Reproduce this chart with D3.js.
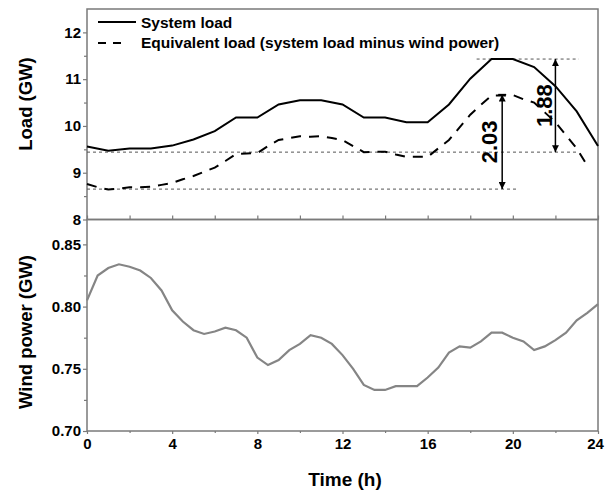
<!DOCTYPE html>
<html><head><meta charset="utf-8">
<script src="https://cdn.jsdelivr.net/npm/d3@7/dist/d3.min.js"></script>
<style>
body{margin:0;background:#fff}
svg{display:block}
text{font-family:Arial,"Liberation Sans",Helvetica,sans-serif;font-weight:bold;fill:#000}
</style>
</head><body>
<svg id="chart" width="605" height="490"></svg>
<script>
// ---- data ----
const loadHours = [0,1,2,3,4,5,6,7,8,9,10,11,12,13,14,15,16,17,18,19,20,21,22,23,24];
const systemLoad = [9.56,9.47,9.52,9.52,9.58,9.71,9.89,10.18,10.18,10.46,10.55,10.55,10.46,10.18,10.18,10.08,10.08,10.46,11.01,11.43,11.43,11.26,10.85,10.31,9.57];

const eqHours = [0,0.5,1,1.5,2,2.5,3,3.5,4,4.5,5,5.5,6,6.5,7,7.5,8,8.5,9,9.5,10,10.5,11,11.5,12,12.5,13,13.5,14,14.5,15,15.5,16,16.5,17,17.5,18,18.5,19,19.5,20,20.5,21,21.5,22,22.5,23,23.5];
const equivalentLoad = [8.76,8.69,8.64,8.66,8.69,8.69,8.70,8.74,8.78,8.86,8.93,9.02,9.11,9.25,9.40,9.41,9.42,9.57,9.70,9.74,9.78,9.77,9.78,9.74,9.70,9.57,9.44,9.45,9.45,9.39,9.34,9.34,9.34,9.52,9.70,9.97,10.24,10.45,10.65,10.65,10.66,10.57,10.50,10.29,10.08,9.80,9.52,9.15];

const windHours = [0,0.5,1,1.5,2,2.5,3,3.5,4,4.5,5,5.5,6,6.5,7,7.5,8,8.5,9,9.5,10,10.5,11,11.5,12,12.5,13,13.5,14,14.5,15,15.5,16,16.5,17,17.5,18,18.5,19,19.5,20,20.5,21,21.5,22,22.5,23,23.5,24];
const windPower = [0.805,0.825,0.831,0.834,0.832,0.829,0.823,0.813,0.797,0.788,0.781,0.778,0.780,0.783,0.781,0.775,0.759,0.753,0.757,0.765,0.770,0.777,0.775,0.770,0.761,0.750,0.737,0.733,0.733,0.736,0.736,0.736,0.743,0.751,0.763,0.768,0.767,0.772,0.779,0.779,0.775,0.772,0.765,0.768,0.773,0.779,0.789,0.795,0.802];

const loadTicks = [8,9,10,11,12];
const loadMinorTicks = [8.5,9.5,10.5,11.5];
const windTicks = [0.70,0.75,0.80,0.85];
const windMinorTicks = [0.725,0.775,0.825];
const timeTicks = [0,4,8,12,16,20,24];
const timeMinorTicks = [2,6,10,14,18,22];

const seriesNames = ["System load","Equivalent load (system load minus wind power)"];

// annotation: reference levels [value, fromHour, toHour]
const refLevels = [[11.43,18.3,23.1],[9.44,0,23.0],[8.65,0,20.2]];
// arrows: [hour, fromValue, toValue, label, labelHour]
const arrows = [[19.5,10.67,8.65,"2.03",18.9],[22.0,11.43,9.44,"1.88",21.5]];

// ---- layout ----
const svg = d3.select("#chart");
const L = 87, R = 598, T = 9, M = 219.5, B = 431;
const x = d3.scaleLinear().domain([0,24]).range([L,R]);
const yTop = d3.scaleLinear().domain([8,12.5]).range([M,T]);
const yBot = d3.scaleLinear().domain([0.70,0.87]).range([B,M]);
const axisColor = "#7a7a7a";

// defs: arrowheads
const defs = svg.append("defs");
defs.append("marker").attr("id","ah").attr("viewBox","0 0 10 10").attr("refX",10).attr("refY",5)
  .attr("markerWidth",7).attr("markerHeight",7).attr("markerUnits","userSpaceOnUse").attr("orient","auto-start-reverse")
  .append("path").attr("d","M0,0 L10,5 L0,10 Z").attr("fill","#000");

// frames
svg.append("rect").attr("x",L).attr("y",T).attr("width",R-L).attr("height",M-T)
  .attr("fill","none").attr("stroke",axisColor).attr("stroke-width",1.5);
svg.append("rect").attr("x",L).attr("y",M).attr("width",R-L).attr("height",B-M)
  .attr("fill","none").attr("stroke",axisColor).attr("stroke-width",1.5);

function styleAxis(g){
  g.select(".domain").remove();
  g.selectAll(".tick line").attr("stroke",axisColor).attr("stroke-width",1.2);
  g.selectAll(".tick text").attr("font-size","15px").attr("fill","#000");
}

// top y axis
svg.append("g").attr("transform",`translate(${L},0)`)
  .call(d3.axisLeft(yTop).tickValues(loadTicks).tickSize(4).tickPadding(2).tickFormat(d3.format("d")))
  .call(styleAxis);
svg.append("g").attr("transform",`translate(${L},0)`)
  .call(d3.axisLeft(yTop).tickValues(loadMinorTicks).tickSize(3).tickFormat(""))
  .call(styleAxis);
// top panel bottom ticks (inward)
svg.append("g").attr("transform",`translate(0,${M})`)
  .call(d3.axisTop(x).tickValues(timeTicks.concat(timeMinorTicks)).tickSize(4).tickFormat(""))
  .call(styleAxis);

// bottom y axis
svg.append("g").attr("transform",`translate(${L},0)`)
  .call(d3.axisLeft(yBot).tickValues(windTicks).tickSize(4).tickPadding(2).tickFormat(d3.format(".2f")))
  .call(styleAxis);
svg.append("g").attr("transform",`translate(${L},0)`)
  .call(d3.axisLeft(yBot).tickValues(windMinorTicks).tickSize(3).tickFormat(""))
  .call(styleAxis);
// bottom x axis
const xAxisG = svg.append("g").attr("transform",`translate(0,${B})`)
  .call(d3.axisBottom(x).tickValues(timeTicks).tickSize(3).tickPadding(4).tickFormat(d3.format("d")))
  .call(styleAxis);
xAxisG.selectAll(".tick text").filter(d=>d===24).attr("dx","-3");
svg.append("g").attr("transform",`translate(0,${B})`)
  .call(d3.axisBottom(x).tickValues(timeMinorTicks).tickSize(2).tickFormat(""))
  .call(styleAxis);

// axis titles
svg.append("text").attr("transform",`translate(26,104) rotate(-90)`)
  .attr("text-anchor","middle").attr("dy","0.35em").attr("font-size","18.5px").text("Load (GW)");
svg.append("text").attr("transform",`translate(26,332) rotate(-90)`)
  .attr("text-anchor","middle").attr("dy","0.35em").attr("font-size","18.5px").text("Wind power (GW)");
svg.append("text").attr("x",345).attr("y",479).attr("text-anchor","middle").attr("dy","0.35em")
  .attr("font-size","19px").text("Time (h)");

// reference dotted lines
svg.append("g").selectAll("line").data(refLevels).join("line")
  .attr("x1",d=>x(d[1])).attr("x2",d=>x(d[2]))
  .attr("y1",d=>yTop(d[0])).attr("y2",d=>yTop(d[0]))
  .attr("stroke","#555").attr("stroke-width",1).attr("stroke-dasharray","3,3");

// lines
const lineTop = d3.line().x(d=>x(d[0])).y(d=>yTop(d[1]));
svg.append("path").datum(loadHours.map((h,i)=>[h,systemLoad[i]]))
  .attr("d",lineTop).attr("fill","none").attr("stroke","#000").attr("stroke-width",2);
svg.append("path").datum(eqHours.map((h,i)=>[h,equivalentLoad[i]]))
  .attr("d",lineTop).attr("fill","none").attr("stroke","#000").attr("stroke-width",2)
  .attr("stroke-dasharray","10,8");

const lineBot = d3.line().x(d=>x(d[0])).y(d=>yBot(d[1]));
svg.append("path").datum(windHours.map((h,i)=>[h,windPower[i]]))
  .attr("d",lineBot).attr("fill","none").attr("stroke","#858585").attr("stroke-width",2.2);

// arrows
arrows.forEach((a,i)=>{
  svg.append("line").attr("x1",x(a[0])).attr("x2",x(a[0]))
    .attr("y1",yTop(a[1])).attr("y2",yTop(a[2]))
    .attr("stroke","#000").attr("stroke-width",1.5)
    .attr("marker-start","url(#ah)").attr("marker-end","url(#ah)");
  if(i===0){
    svg.append("line").attr("x1",x(a[0])-4).attr("x2",x(a[0])+4)
      .attr("y1",yTop(a[1])).attr("y2",yTop(a[1])).attr("stroke","#000").attr("stroke-width",1.5);
  }
  svg.append("text").attr("transform",`translate(${x(a[4])},${yTop((a[1]+a[2])/2)}) rotate(-90)`)
    .attr("text-anchor","middle").attr("dy","0.35em").attr("font-size","22px").text(a[3]);
});

// legend
svg.append("line").attr("x1",98).attr("x2",136).attr("y1",22).attr("y2",22)
  .attr("stroke","#000").attr("stroke-width",2);
svg.append("line").attr("x1",98).attr("x2",121).attr("y1",43).attr("y2",43)
  .attr("stroke","#000").attr("stroke-width",2).attr("stroke-dasharray","8,7");
svg.selectAll("text.leg").data(seriesNames).join("text").attr("class","leg")
  .attr("x",141).attr("y",(d,i)=>i===0?23:43).attr("dy","0.35em").attr("font-size","15.5px").text(d=>d);
</script>
</body></html>
